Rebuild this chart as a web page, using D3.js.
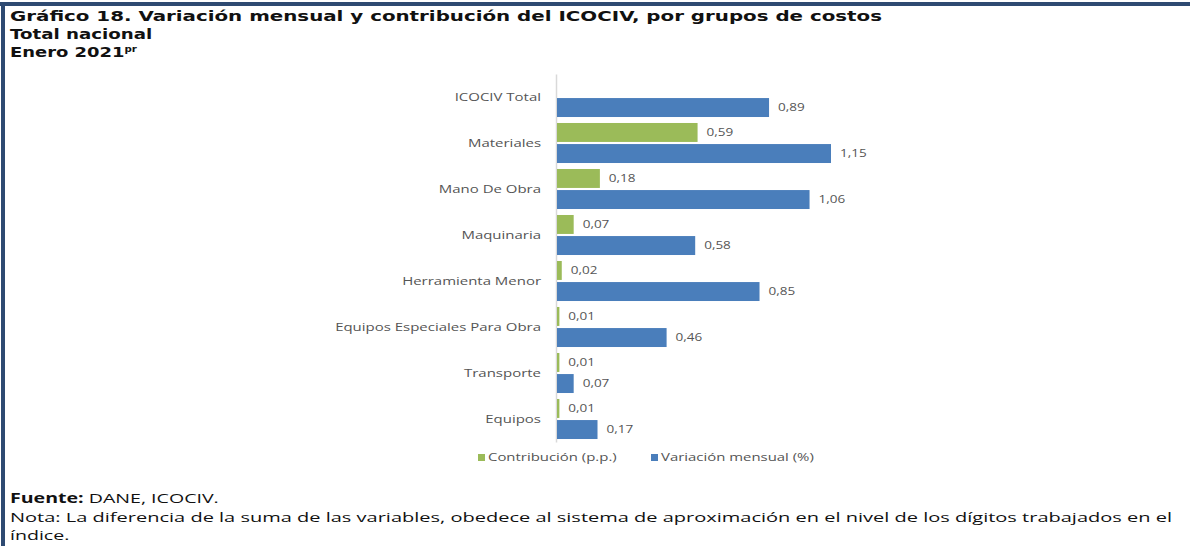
<!DOCTYPE html>
<html>
<head>
<meta charset="utf-8">
<script src="https://cdn.jsdelivr.net/npm/d3@7"></script>
<style>
  body { margin: 0; background: #fff; }
  svg { display: block; font-family: "Open Sans", sans-serif; }
</style>
</head>
<body>
<div id="chart"></div>
<script>
// data
var categories = ["ICOCIV Total", "Materiales", "Mano De Obra", "Maquinaria",
    "Herramienta Menor", "Equipos Especiales Para Obra", "Transporte", "Equipos"];
var contribucion = [null, 0.59, 0.18, 0.07, 0.02, 0.01, 0.01, 0.01];
var variacion = [0.89, 1.15, 1.06, 0.58, 0.85, 0.46, 0.07, 0.17];
var seriesNames = ["Contribución (p.p.)", "Variación mensual (%)"];
var seriesColors = ["#9bbb59", "#4a7ebb"];

var width = 1190, height = 546;

// the source picture is stretched sideways, so widen text to match
function stretch(sel, k) {
    sel.each(function () {
        var len = this.getComputedTextLength();
        d3.select(this).attr("textLength", len * k).attr("lengthAdjust", "spacingAndGlyphs");
    });
}

var svg = d3.select("#chart").append("svg")
    .attr("width", width)
    .attr("height", height);

// frame lines (top + left)
svg.append("rect").attr("x", 0).attr("y", 2).attr("width", width).attr("height", 4).attr("fill", "#2e4a72");
svg.append("rect").attr("x", 1).attr("y", 2).attr("width", 4).attr("height", height).attr("fill", "#2e4a72");

// titles
var titleFont = "DejaVu Sans, sans-serif";
svg.append("text")
    .attr("x", 10).attr("y", 21)
    .attr("textLength", 872).attr("lengthAdjust", "spacingAndGlyphs")
    .style("font-family", titleFont)
    .style("font-size", "14px").style("font-weight", "bold").style("fill", "#111")
    .text("Gráfico 18. Variación mensual y contribución del ICOCIV, por grupos de costos");
svg.append("text")
    .attr("x", 10).attr("y", 39)
    .style("font-family", titleFont)
    .style("font-size", "14px").style("font-weight", "bold").style("fill", "#111")
    .text("Total nacional")
    .call(stretch, 1.3);
var t3 = svg.append("text")
    .attr("x", 10).attr("y", 57)
    .style("font-family", titleFont)
    .style("font-size", "14px").style("font-weight", "bold").style("fill", "#111");
t3.append("tspan").text("Enero 2021");
t3.append("tspan").attr("dy", -5).style("font-size", "8px").text("pr");
t3.call(stretch, 1.28);

// scales
var x = d3.scaleLinear().domain([0, 1.15]).range([556, 830]);
var y = d3.scaleBand().domain(categories).range([74, 442])
    .paddingInner(0.13).paddingOuter(0.065);
var sub = d3.scaleBand().domain([0, 1]).range([0, y.bandwidth()]).paddingInner(0.1);

var rows = categories.map(function (c, i) {
    return {cat: c, vals: [contribucion[i], variacion[i]]};
});

// category axis
var yAxis = svg.append("g")
    .attr("transform", "translate(556,0)")
    .call(d3.axisLeft(y).tickSize(0).tickPadding(15));
yAxis.select(".domain").attr("stroke", "#d9d9d9").attr("stroke-width", 1.5);
yAxis.selectAll("text")
    .style("font-size", "11px").style("fill", "#555")
    .style("font-family", "Open Sans, sans-serif")
    .call(stretch, 1.36);

// bars
var groups = svg.selectAll(".cat").data(rows).enter()
    .append("g")
    .attr("class", "cat")
    .attr("transform", function (d) { return "translate(0," + y(d.cat) + ")"; });

groups.each(function (d) {
    var g = d3.select(this);
    d.vals.forEach(function (v, k) {
        if (v === null) return;
        g.append("rect")
            .attr("x", x(0) + 1)
            .attr("y", sub(k))
            .attr("width", x(v) - x(0))
            .attr("height", sub.bandwidth())
            .attr("fill", seriesColors[k]);
        g.append("text")
            .attr("x", x(v) + 10)
            .attr("y", sub(k) + sub.bandwidth() / 2)
            .attr("dy", "0.35em")
            .style("font-size", "10px").style("fill", "#555")
            .text(d3.format(".2f")(v).replace(".", ","))
            .call(stretch, 1.35);
    });
});

// legend
var legX = [478, 651];
seriesNames.forEach(function (name, k) {
    svg.append("rect")
        .attr("x", legX[k]).attr("y", 454)
        .attr("width", 7).attr("height", 7)
        .attr("fill", seriesColors[k]);
    svg.append("text")
        .attr("x", legX[k] + 10).attr("y", 457.5)
        .attr("dy", "0.35em")
        .style("font-size", "10.5px").style("fill", "#555")
        .text(name)
        .call(stretch, 1.42);
});

// footer
var f = svg.append("text").attr("x", 10).attr("y", 503)
    .style("font-size", "13.5px").style("fill", "#111");
f.append("tspan").style("font-weight", "bold").text("Fuente:");
f.append("tspan").text(" DANE, ICOCIV.");
f.call(stretch, 1.45);
svg.append("text").attr("x", 10).attr("y", 522)
    .attr("textLength", 1162).attr("lengthAdjust", "spacingAndGlyphs")
    .style("font-size", "13.5px").style("fill", "#111")
    .text("Nota: La diferencia de la suma de las variables, obedece al sistema de aproximación en el nivel de los dígitos trabajados en el");
svg.append("text").attr("x", 10).attr("y", 540)
    .style("font-size", "13.5px").style("fill", "#111")
    .text("índice.")
    .call(stretch, 1.45);
</script>
</body>
</html>
